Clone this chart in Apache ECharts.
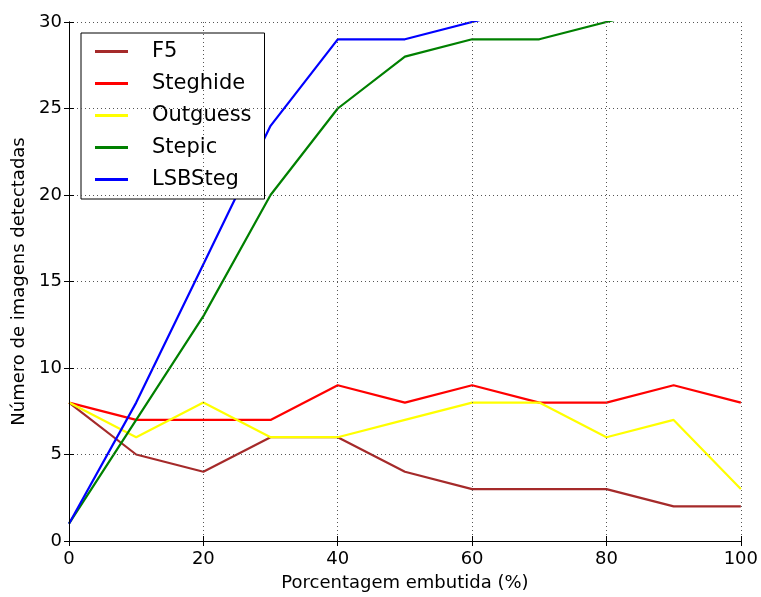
<!DOCTYPE html>
<html>
<head>
<meta charset="utf-8">
<script src="https://cdn.jsdelivr.net/npm/echarts@6/dist/echarts.min.js"></script>
<style>
  html, body { margin: 0; padding: 0; background: #fff; }
  #chart { width: 761px; height: 597px; }
</style>
</head>
<body>
<div id="chart"></div>
<script>
// porcentagem embutida (%)
var percents = [0, 10, 20, 30, 40, 50, 60, 70, 80, 90, 100];

// points above 30 run off the top of the plot and are clipped
var f5       = [8, 5, 4, 6, 6, 4, 3, 3, 3, 2, 2];
var steghide = [8, 7, 7, 7, 9, 8, 9, 8, 8, 9, 8];
var outguess = [8, 6, 8, 6, 6, 7, 8, 8, 6, 7, 3];
var stepic   = [1, 7, 13, 20, 25, 28, 29, 29, 30, 31, 31];
var lsbsteg  = [1, 8, 16, 24, 29, 29, 30, 31, 31, 31, 31];

var names  = ['F5', 'Steghide', 'Outguess', 'Stepic', 'LSBSteg'];
var colors = ['#a52a2a', '#ff0000', '#ffff00', '#008000', '#0000ff'];
var values = [f5, steghide, outguess, stepic, lsbsteg];

var chart = echarts.init(document.getElementById('chart'));

function pairs(ys) {
    return percents.map(function (x, i) { return [x, ys[i]]; });
}

var font = 'DejaVu Sans';

var tickStyle = { show: true, inside: true, length: 5, lineStyle: { color: '#000', width: 1 } };
var lineStyle = { lineStyle: { color: '#000', width: 1 } };
var gridLine  = { show: true, lineStyle: { color: '#555', width: 1, type: [1, 3] } };

var series = names.map(function (n, i) {
    return {
        name: n,
        type: 'line',
        data: pairs(values[i]),
        symbol: 'none',
        clip: true,
        lineStyle: { color: colors[i], width: 2.2 },
        itemStyle: { color: colors[i] },
        z: 2
    };
});

var option = {
    animation: false,
    backgroundColor: '#fff',
    grid: { left: 69, right: 19, top: 22, bottom: 54 },
    legend: {
        orient: 'vertical',
        left: 81,
        top: 33,
        data: names,
        icon: 'rect',
        itemWidth: 33,
        itemHeight: 3,
        itemGap: 11,
        padding: [8, 13, 9, 14],
        backgroundColor: '#fff',
        borderColor: '#000',
        borderWidth: 1,
        textStyle: {
            fontFamily: font,
            fontSize: 21,
            lineHeight: 21,
            color: '#000',
            padding: [0, 0, 0, 19]
        }
    },
    xAxis: [{
        type: 'value',
        min: 0, max: 100, interval: 20,
        name: 'Porcentagem embutida (%)',
        nameLocation: 'middle',
        nameGap: 33,
        nameTextStyle: { fontFamily: font, fontSize: 18, color: '#000' },
        axisLine: lineStyle,
        axisTick: tickStyle,
        axisLabel: { fontFamily: font, fontSize: 18, color: '#000', margin: 9 },
        splitLine: gridLine,
        z: 5
    }, {
        type: 'value',
        position: 'top',
        min: 0, max: 100, interval: 20,
        axisLine: lineStyle,
        axisTick: tickStyle,
        axisLabel: { show: false },
        splitLine: { show: false },
        z: 5
    }],
    yAxis: [{
        type: 'value',
        min: 0, max: 30, interval: 5,
        name: 'Número de imagens detectadas',
        nameLocation: 'middle',
        nameGap: 39,
        nameTextStyle: { fontFamily: font, fontSize: 18, color: '#000' },
        axisLine: lineStyle,
        axisTick: tickStyle,
        axisLabel: { fontFamily: font, fontSize: 18, color: '#000', margin: 7 },
        splitLine: gridLine,
        z: 5
    }, {
        type: 'value',
        position: 'right',
        min: 0, max: 30, interval: 5,
        axisLine: lineStyle,
        axisTick: tickStyle,
        axisLabel: { show: false },
        splitLine: { show: false },
        z: 5
    }],
    series: series
};

chart.setOption(option);
</script>
</body>
</html>
